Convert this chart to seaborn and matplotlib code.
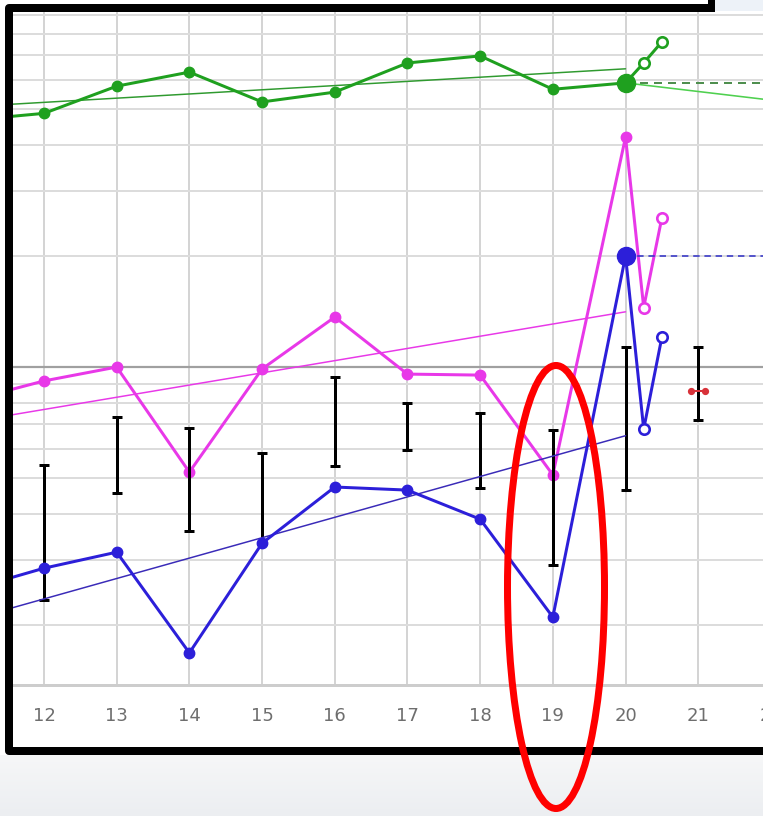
import numpy as np
import matplotlib
matplotlib.use("Agg")
import matplotlib.pyplot as plt
from matplotlib.ticker import LogLocator, NullFormatter
from matplotlib.patches import Ellipse, Rectangle
import seaborn as sns

# ---- data -------------------------------------------------------------
days = np.arange(11, 21)
next_days = [20.25, 20.5]

green = [46.7, 48.7, 57.7, 63.0, 52.3, 55.6, 66.7, 69.7, 56.6, 58.9]
green_next = [66.7, 76.1]
green_proj_day = 22
green_proj_value = 52.9

magenta = [8.14, 9.17, 10.0, 5.19, 9.88, 13.66, 9.57, 9.51, 5.10, 42.0]
magenta_next = [14.5, 25.4]

blue = [2.50, 2.85, 3.15, 1.68, 3.33, 4.73, 4.64, 3.87, 2.10, 20.0]
blue_next = [6.79, 12.06]

range_days = np.arange(12, 22)
range_low = [2.34, 4.56, 3.59, 3.31, 5.39, 5.96, 4.70, 2.91, 4.64, 7.18]
range_high = [5.43, 7.32, 6.83, 5.85, 9.40, 7.99, 7.50, 6.75, 11.33, 11.33]

red_day = 21
red_value = 8.6

tick_days = list(range(12, 23))

# ---- style ------------------------------------------------------------
sns.set_style("white")
plt.rcParams['font.family'] = ['Liberation Sans Narrow', 'DejaVu Sans']

GREEN = "#1fa01f"
GREEN_TREND = "#2f9a2f"
GREEN_PROJ = "#4fd04f"
MAGENTA = "#e838e8"
BLUE = "#2c1fd9"
BLUE_TREND = "#3a2bb8"
PX = 0.72  # points per pixel at 100 dpi

W, H = 763, 816
fig = plt.figure(figsize=(W / 100, H / 100), dpi=100)
fig.patch.set_facecolor("white")

ax = fig.add_axes([0, 131 / H, 800 / W, 685 / H])
ax.set_yscale("log")
ax.set_xlim(11.395, 22.40)
ax.set_ylim(1.375, 98.8)

# grid
ax.yaxis.set_major_locator(LogLocator(base=10, subs=(1.0,)))
ax.yaxis.set_minor_locator(LogLocator(base=10, subs=np.arange(2, 10)))
ax.yaxis.set_minor_formatter(NullFormatter())
ax.set_xticks(tick_days)
ax.grid(which="minor", axis="y", color="#dcdcdc", lw=2 * PX)
ax.grid(which="major", axis="y", color="#a0a0a0", lw=2.2 * PX)
ax.grid(which="major", axis="x", color="#d4d4d4", lw=2 * PX)
ax.set_axisbelow(True)

for s in ("top", "left", "right"):
    ax.spines[s].set_visible(False)
ax.spines["bottom"].set_color("#cdcdcd")
ax.spines["bottom"].set_linewidth(3 * PX)
ax.tick_params(axis="y", which="both", left=False, labelleft=False)
ax.tick_params(axis="x", which="major", length=7, width=2 * PX, color="#d4d4d4",
               labelcolor="#6e6e6e", labelsize=13, pad=9)


def trend(values):
    coef = np.polyfit(days, np.log10(values), 1)
    ends = np.array([days[0], days[-1]])
    return ends, 10 ** np.polyval(coef, ends)


def draw_series(values, extra, color, trend_color, z):
    tx, ty = trend(values)
    sns.lineplot(x=tx, y=ty, ax=ax, color=trend_color, lw=1.5 * PX,
                 estimator=None, sort=False, zorder=z)
    xs = list(days) + next_days
    ys = list(values) + extra
    sns.lineplot(x=xs, y=ys, ax=ax, color=color, lw=3 * PX,
                 estimator=None, sort=False, zorder=z + 0.1)
    ax.plot(days, values, ls="none", marker="o", ms=7.5, color=color,
            mec=color, zorder=z + 0.2)
    ax.plot(next_days, extra, ls="none", marker="o", ms=7.5, mfc="white",
            mec=color, mew=2.2 * PX * 1.2, zorder=z + 0.2)


# green series with its projection and level line
draw_series(green, green_next, GREEN, GREEN_TREND, 3)
sns.lineplot(x=[days[-1], green_proj_day + 0.5],
             y=[green[-1], green[-1] * (green_proj_value / green[-1]) ** (2.5 / 2)],
             ax=ax, color=GREEN_PROJ, lw=1.6 * PX, estimator=None, zorder=2.9)
ax.plot([days[-1], 22.6], [green[-1], green[-1]], ls=(0, (4, 3)),
        color="#4f8f4f", lw=2 * PX, zorder=2.8)
ax.plot([days[-1]], [green[-1]], marker="o", ms=13, color=GREEN, zorder=3.5)

# magenta series
draw_series(magenta, magenta_next, MAGENTA, MAGENTA, 4)

# range bars
lo = np.array(range_low)
hi = np.array(range_high)
mid = np.sqrt(lo * hi)
ax.errorbar(range_days, mid, yerr=[mid - lo, hi - mid], fmt="none",
            ecolor="black", elinewidth=3 * PX, capsize=3.4, capthick=3 * PX,
            zorder=5)

# blue series and level line
draw_series(blue, blue_next, BLUE, BLUE_TREND, 6)
ax.plot([days[-1], 22.6], [blue[-1], blue[-1]], ls=(0, (4, 3)),
        color="#3535c8", lw=1.6 * PX, zorder=5.8)
ax.plot([days[-1]], [blue[-1]], marker="o", ms=13, color=BLUE, zorder=6.5)

# red marker
ax.plot([red_day - 0.1, red_day + 0.1], [red_value, red_value], color="#d8323a",
        lw=2 * PX, marker="o", ms=4.2, zorder=7)

ax.set_xlabel("")
ax.set_ylabel("")

# ---- overlay: frame, backdrop and highlight -----------------------------
ov = fig.add_axes([0, 0, 1, 1], zorder=10)
ov.patch.set_alpha(0)
grad = np.linspace(0, 1, 64)[:, None]
ov.imshow(grad, extent=(0, W, H, 755), aspect="auto",
          cmap=matplotlib.colors.LinearSegmentedColormap.from_list(
              "bg", ["#f6f7f8", "#eceef1"]), zorder=0)
ov.add_patch(Rectangle((0, 0), 5, 755, fc="white", ec="none", zorder=1))
ov.add_patch(Rectangle((0, 0), 712, 4, fc="white", ec="none", zorder=1))
ov.add_patch(Rectangle((715, 0), 48, 11, fc="#edf2f8", ec="none", zorder=1))
ov.plot([712, 9, 9, 775], [8, 8, 751, 751], color="black", lw=8 * PX,
        solid_joinstyle="round", solid_capstyle="butt", zorder=2)
ov.add_patch(Rectangle((708, 0), 7, 12, fc="black", ec="none", zorder=2))
ov.add_patch(Ellipse((556, 587), 97, 443, fill=False, ec="#ff0000",
                     lw=7 * PX, zorder=3))
ov.set_xlim(0, W)
ov.set_ylim(H, 0)
ov.axis("off")

fig.savefig("out.png", dpi=100)
